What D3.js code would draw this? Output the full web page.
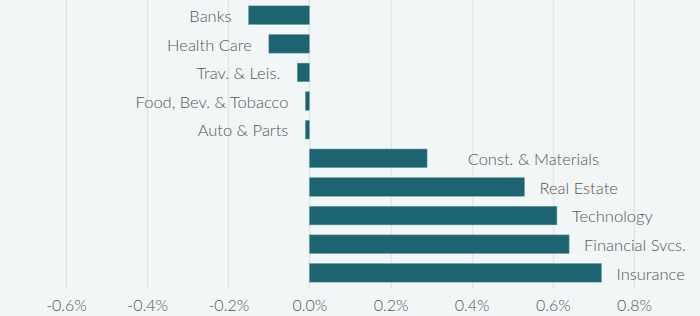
<!DOCTYPE html>
<html lang="en">
<head>
<meta charset="utf-8">
<script src="https://cdn.jsdelivr.net/npm/d3@7"></script>
<style>
    body { margin: 0; background: #f3f6f7; }
    text { font-family: Lato, "Open Sans", sans-serif; font-weight: 300; }
</style>
</head>
<body>
<div id="svg"></div>

<script>
    // sector returns, in percent
    var sectors = ["Banks", "Health Care", "Trav. & Leis.", "Food, Bev. & Tobacco", "Auto & Parts",
                   "Const. & Materials", "Real Estate", "Technology", "Financial Svcs.", "Insurance"];
    var returns = [-0.15, -0.10, -0.03, -0.01, -0.01, 0.29, 0.53, 0.61, 0.64, 0.72];
    var ticks = [-0.6, -0.4, -0.2, 0.0, 0.2, 0.4, 0.6, 0.8];

    var width = 700, height = 316;

    var svg = d3.select("#svg").append("svg")
        .attr("width", width)
        .attr("height", height);

    var x = d3.scaleLinear()
        .domain([-0.6, 0.8])
        .range([66, 634]);

    var y = d3.scaleBand()
        .domain(sectors)
        .range([1, 287])
        .paddingInner(0.35)
        .paddingOuter(0.17);

    // vertical gridlines
    svg.append("g")
        .selectAll("line")
        .data(ticks)
      .enter().append("line")
        .attr("x1", function(d){ return Math.round(x(d)) + 0.5; })
        .attr("x2", function(d){ return Math.round(x(d)) + 0.5; })
        .attr("y1", 0)
        .attr("y2", 289)
        .style("stroke", "#e2e5e6")
        .style("stroke-width", 1.5);

    // bars
    svg.append("g")
        .selectAll("rect")
        .data(sectors)
      .enter().append("rect")
        .attr("x", function(d, i){ return x(Math.min(0, returns[i])); })
        .attr("width", function(d, i){ return Math.abs(x(returns[i]) - x(0)); })
        .attr("y", function(d){ return y(d); })
        .attr("height", y.bandwidth())
        .style("fill", "#1b6470")
        .style("stroke", "#6d9ea6")
        .style("stroke-width", 0.5);

    // sector labels beside bars
    svg.append("g")
        .selectAll("text")
        .data(sectors)
      .enter().append("text")
        .attr("x", function(d, i){
            var v = returns[i];
            if (v < 0) return x(v) - 17;
            return Math.max(x(v) + 15, x(0.39));
        })
        .attr("y", function(d){ return y(d) + y.bandwidth() / 2 + 1; })
        .attr("dy", "0.35em")
        .attr("text-anchor", function(d, i){ return returns[i] < 0 ? "end" : "start"; })
        .style("font-size", "16.5px")
        .style("fill", "#555")
        .text(function(d){ return d; });

    // bottom axis, plain hyphen for the minus sign
    var axis = d3.axisBottom(x)
        .tickValues(ticks)
        .tickSize(0)
        .tickPadding(0)
        .tickFormat(function(d){ return d3.format(".1f")(d).replace("\u2212", "-") + "%"; });

    var gx = svg.append("g")
        .attr("transform", "translate(0,300)")
        .call(axis);
    gx.select(".domain").remove();
    gx.selectAll("text")
        .style("font-family", "Lato, sans-serif")
        .style("font-weight", 300)
        .style("font-size", "16px")
        .style("fill", "#555");
</script>
</body>
</html>
